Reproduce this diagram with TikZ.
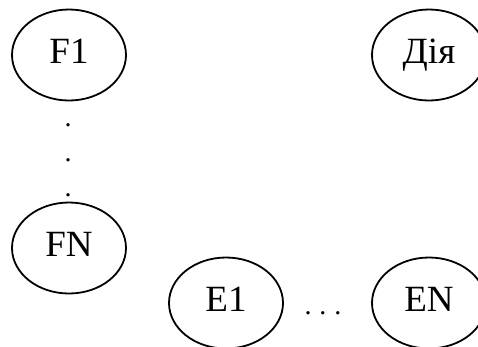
\documentclass[tikz,border=0pt]{standalone}
\usepackage{fontspec}
\setmainfont{Liberation Serif}
\usetikzlibrary{shapes.geometric}
\begin{document}
\begin{tikzpicture}[x=1pt,y=-1pt,
  state/.style={draw, ellipse, line width=1.8pt, inner sep=0pt,
    minimum width=114pt, minimum height=91pt,
    font=\fontsize{37}{40}\selectfont, text height=24pt, text depth=8pt},
  dotmark/.style={inner sep=0pt, anchor=base, font=\fontsize{28}{30}\selectfont}]
  \useasboundingbox (0,0) rectangle (478,346);
  \clip (0,0) rectangle (478,346);
  % factor states
  \node[state] (f1) at (69,55) {F1};
  \node[state] (fn) at (69,248) {FN};
  % vertical ellipsis between the factors
  \node[dotmark] (d1) at (68,126) {.};
  \node[dotmark] (d2) at (68,161) {.};
  \node[dotmark] (d3) at (68,196) {.};
  % action
  \node[state] (act) at (429,55) {Дія};
  % effect states
  \node[state] (e1) at (226,303) {E1};
  \node[state] (en) at (429,303) {EN};
  % horizontal ellipsis between the effects
  \node[dotmark] (hd) at (323,314) {.\hspace{8pt}.\hspace{8pt}.};
\end{tikzpicture}
\end{document}
